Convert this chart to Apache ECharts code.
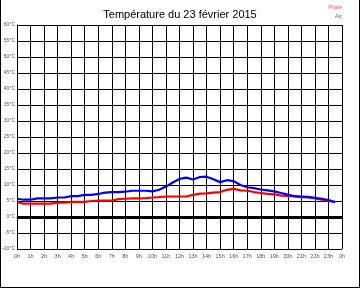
<!DOCTYPE html>
<html>
<head>
<meta charset="utf-8">
<script src="https://cdn.jsdelivr.net/npm/echarts@6/dist/echarts.min.js"></script>
<style>html,body{margin:0;padding:0;background:#fff}#c{width:360px;height:288px}</style>
</head>
<body>
<div id="c"></div>
<script>
const titleText = 'Température du 23 février 2015';
const hours = [0,0.5,1,1.5,2,2.5,3,3.5,4,4.5,5,5.5,6,6.5,7,7.5,8,8.5,9,9.5,10,10.5,11,11.5,12,12.5,13,13.5,14,14.5,15,15.5,16,16.5,17,17.5,18,18.5,19,19.5,20,20.5,21,21.5,22,22.5,23,23.5];
const airTemp = [5.7,5.4,5.4,5.8,5.8,5.8,6.1,6.1,6.5,6.5,6.9,6.9,7.2,7.6,7.8,7.8,7.9,8.2,8.2,8.2,8.0,8.5,9.5,10.8,11.9,12.3,11.7,12.5,12.6,11.8,10.9,11.5,11.2,10.0,9.3,9.0,8.6,8.3,8.0,7.5,7.0,6.5,6.4,6.3,6.0,5.7,5.3,4.7];
const plateTemp = [4.6,4.2,4.2,4.2,4.2,4.2,4.5,4.5,4.7,4.7,4.7,5.0,5.1,5.1,5.1,5.6,5.7,5.8,5.8,5.9,6.1,6.2,6.4,6.4,6.4,6.4,6.9,7.3,7.4,7.6,7.8,8.5,8.8,8.3,8.2,7.8,7.5,7.2,7.1,6.7,6.6,6.4,6.2,6.1,5.8,5.4,5.0,4.6];
const seriesNames = ['Plate', 'Air'];
const yMin = -10, yMax = 60, yStep = 5;
const xMin = 0, xMax = 24, xStep = 1;

const chart = echarts.init(document.getElementById('c'), null, {renderer: 'canvas'});
const font = 'Liberation Sans, Arial, sans-serif';
chart.setOption({
  animation: false,
  backgroundColor: '#fff',
  title: {
    text: titleText, left: 'center', top: 4,
    textStyle: {fontFamily: font, fontSize: 11, fontWeight: 'normal', color: '#000'}
  },
  grid: {left: 17, right: 18, top: 25, bottom: 39, containLabel: false, outerBoundsMode: 'none'},
  xAxis: {
    type: 'value', min: xMin, max: xMax, interval: xStep,
    axisLine: {show: true, lineStyle: {color: '#000', width: 1}},
    axisTick: {show: false},
    splitLine: {show: true, lineStyle: {color: '#000', width: 1}},
    axisLabel: {
      fontFamily: font, fontSize: 5.5, color: '#555', margin: 4,
      showMinLabel: true, showMaxLabel: true, hideOverlap: false,
      formatter: v => (v % 24) + 'h'
    }
  },
  yAxis: {
    type: 'value', min: yMin, max: yMax, interval: yStep,
    axisLine: {show: true, lineStyle: {color: '#000', width: 1}},
    axisTick: {show: false},
    splitLine: {show: true, lineStyle: {color: '#000', width: 1}},
    axisLabel: {fontFamily: font, fontSize: 5, color: '#555', margin: 2, formatter: v => v + '°C'}
  },
  series: [
    {
      name: seriesNames[0], type: 'line', symbol: 'none',
      data: hours.map((h, i) => [h, plateTemp[i]]),
      lineStyle: {color: '#ff0000', width: 2.2}, itemStyle: {color: '#ff0000'},
      markLine: {
        silent: true, symbol: 'none', label: {show: false},
        lineStyle: {color: '#000', width: 3, type: 'solid'},
        data: [{yAxis: 0}]
      },
      z: 3
    },
    {
      name: seriesNames[1], type: 'line', symbol: 'none',
      data: hours.map((h, i) => [h, airTemp[i]]),
      lineStyle: {color: '#0000ff', width: 2.2}, itemStyle: {color: '#0000ff'},
      z: 4
    }
  ],
  graphic: [
    {type: 'text', right: 18, top: 4, style: {text: seriesNames[0], fill: '#ff5555', font: '6px ' + font}},
    {type: 'text', right: 18, top: 13, style: {text: seriesNames[1], fill: '#5555ff', font: '6px ' + font}},
    {type: 'polyline', shape: {points: [[0.5, 0], [0.5, 287.5], [359.5, 287.5], [359.5, 0]]}, style: {stroke: '#000', lineWidth: 1, fill: null}}
  ]
});
</script>
</body>
</html>
